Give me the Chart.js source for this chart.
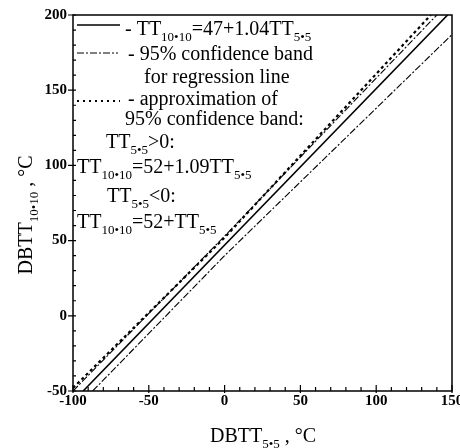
<!DOCTYPE html>
<html>
<head>
<meta charset="utf-8">
<script src="https://cdn.jsdelivr.net/npm/chart.js@4/dist/chart.umd.min.js"></script>
<style>
  html, body { margin: 0; padding: 0; background: #fff; }
</style>
</head>
<body>
<canvas id="dbttChart" width="460" height="448"></canvas>
<script>
// values
const fitX = [-93.3, 147.1];       // TT10*10 = 47 + 1.04 TT5*5
const fitY = [-50, 200];
const bandUpX = [-100, 0, 140];    // 95% confidence band, upper
const bandUpY = [-50, 53, 200];
const bandLoX = [-87, 0, 150];     // 95% confidence band, lower
const bandLoY = [-50, 40, 187];
const approxX = [-100, 0, 136];    // approximation of the band
const approxY = [-48, 52, 200];

const xTicks = [-100, -50, 0, 50, 100, 150];
const yTicks = [-50, 0, 50, 100, 150, 200];

const SERIF = '"Liberation Serif", "DejaVu Serif", serif';
const DASH_DOT = [7, 2, 2, 2];
const DOTTED = [3, 3];
const SUB = 0.65;

function toPoints(xs, ys){
	return xs.map((x, i) => ({x: x, y: ys[i]}));
}

// draws text where every part may be normal or subscript
function richText(ctx, x, y, parts, size, align){
	let widths = parts.map(p => {
		ctx.font = (p.sub ? size * SUB : size) + 'px ' + SERIF;
		return ctx.measureText(p.t).width;
	});
	let total = widths.reduce((a, b) => a + b, 0);
	let cx = align === 'center' ? x - total / 2 : x;
	ctx.textAlign = 'left';
	ctx.textBaseline = 'alphabetic';
	parts.forEach((p, i) => {
		ctx.font = (p.sub ? size * SUB : size) + 'px ' + SERIF;
		ctx.fillText(p.t, cx, p.sub ? y + size * 0.3 : y);
		cx += widths[i];
	});
}

function sampleLine(ctx, x1, x2, y, dash, width){
	ctx.save();
	ctx.setLineDash(dash);
	ctx.lineWidth = width;
	ctx.beginPath();
	ctx.moveTo(x1, y);
	ctx.lineTo(x2, y);
	ctx.stroke();
	ctx.restore();
}

const framePlugin = {
	id: 'frame',
	afterDraw(chart){
		const ctx = chart.ctx;
		const a = chart.chartArea;
		const xs = chart.scales.x;
		const ys = chart.scales.y;
		ctx.save();
		ctx.strokeStyle = '#000';
		ctx.fillStyle = '#000';
		ctx.lineWidth = 1.5;
		ctx.strokeRect(a.left, a.top, a.right - a.left, a.bottom - a.top);

		// minor and major ticks
		ctx.lineWidth = 1.2;
		ctx.beginPath();
		for (let v = xs.min; v <= xs.max; v += 10){
			let px = xs.getPixelForValue(v);
			let major = v % 50 === 0;
			ctx.moveTo(px, a.bottom + (major ? 2 : 0));
			ctx.lineTo(px, a.bottom - (major ? 6 : 4));
		}
		for (let v = ys.min; v <= ys.max; v += 10){
			let py = ys.getPixelForValue(v);
			let major = v % 50 === 0;
			ctx.moveTo(a.left - (major ? 5 : 0), py);
			ctx.lineTo(a.left + 3, py);
		}
		ctx.stroke();

		// tick labels
		ctx.font = 'bold 15px ' + SERIF;
		ctx.textAlign = 'center';
		ctx.textBaseline = 'top';
		xTicks.forEach(v => ctx.fillText(String(v), xs.getPixelForValue(v), a.bottom + 3));
		ctx.textAlign = 'right';
		ctx.textBaseline = 'middle';
		yTicks.forEach(v => ctx.fillText(String(v), a.left - 6, ys.getPixelForValue(v)));

		// axis titles
		richText(ctx, 263, 442, [{t: 'DBTT'}, {t: '5•5', sub: true}, {t: ' , °C'}], 20, 'center');
		ctx.save();
		ctx.translate(32, 215);
		ctx.rotate(-Math.PI / 2);
		richText(ctx, 0, 0, [{t: 'DBTT'}, {t: '10•10', sub: true}, {t: ' , °C'}], 20, 'center');
		ctx.restore();

		// legend written inside the plot
		const fs = 20;
		sampleLine(ctx, 77, 120, 25, [], 1.6);
		richText(ctx, 125, 35, [{t: '- TT'}, {t: '10•10', sub: true}, {t: '=47+1.04TT'}, {t: '5•5', sub: true}], fs);
		sampleLine(ctx, 77, 118, 53, DASH_DOT, 1);
		richText(ctx, 128, 60, [{t: '- 95% confidence band'}], fs);
		richText(ctx, 144, 83, [{t: 'for regression line'}], fs);
		sampleLine(ctx, 77, 120, 101, [2, 4], 2);
		richText(ctx, 128, 105, [{t: '- approximation of'}], fs);
		richText(ctx, 125, 125, [{t: '95% confidence band:'}], fs);
		richText(ctx, 106, 148, [{t: 'TT'}, {t: '5•5', sub: true}, {t: '>0:'}], fs);
		richText(ctx, 77, 173, [{t: 'TT'}, {t: '10•10', sub: true}, {t: '=52+1.09TT'}, {t: '5•5', sub: true}], fs);
		richText(ctx, 107, 202, [{t: 'TT'}, {t: '5•5', sub: true}, {t: '<0:'}], fs);
		richText(ctx, 77, 228, [{t: 'TT'}, {t: '10•10', sub: true}, {t: '=52+TT'}, {t: '5•5', sub: true}], fs);
		ctx.restore();
	}
};

const bgPlugin = {
	id: 'bg',
	beforeDraw(chart){
		const ctx = chart.ctx;
		ctx.save();
		ctx.fillStyle = '#fff';
		ctx.fillRect(0, 0, chart.width, chart.height);
		ctx.restore();
	}
};

function lineSet(label, xs, ys, dash, width){
	return {
		label: label,
		data: toPoints(xs, ys),
		showLine: true,
		borderColor: '#000',
		borderWidth: width,
		borderDash: dash,
		pointRadius: 0,
		fill: false
	};
}

new Chart(document.getElementById('dbttChart').getContext('2d'), {
	type: 'scatter',
	data: {
		datasets: [
			lineSet('regression', fitX, fitY, [], 1.6),
			lineSet('band upper', bandUpX, bandUpY, DASH_DOT, 1.1),
			lineSet('band lower', bandLoX, bandLoY, DASH_DOT, 1.1),
			lineSet('approximation', approxX, approxY, DOTTED, 2.2)
		]
	},
	options: {
		responsive: false,
		animation: false,
		layout: { padding: { left: 73, top: 15, right: 8, bottom: 57 } },
		plugins: { legend: { display: false }, tooltip: { enabled: false } },
		scales: {
			x: { type: 'linear', min: -100, max: 150, display: false },
			y: { type: 'linear', min: -50, max: 200, display: false }
		}
	},
	plugins: [bgPlugin, framePlugin]
});
</script>
</body>
</html>
